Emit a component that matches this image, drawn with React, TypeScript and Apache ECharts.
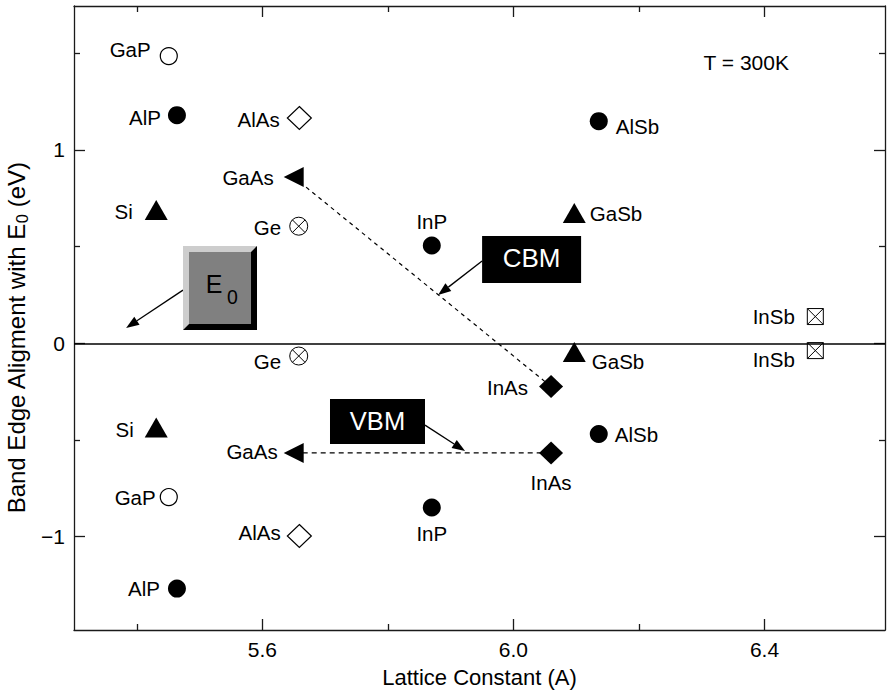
import React, { useEffect, useRef } from 'react';
import * as echarts from 'echarts';

// ---------- data ----------
const materials = ['GaP', 'AlP', 'AlAs', 'GaAs', 'Si', 'Ge', 'InP', 'AlSb', 'GaSb', 'InSb', 'InAs'];
const latticeA = [5.451, 5.464, 5.659, 5.650, 5.431, 5.658, 5.870, 6.136, 6.097, 6.481, 6.060];
const cbmEv = [1.484, 1.179, 1.164, 0.859, 0.689, 0.605, 0.505, 1.148, 0.673, 0.138, -0.224];
const vbmEv = [-0.795, -1.268, -0.996, -0.567, -0.436, -0.066, -0.849, -0.469, -0.045, -0.038, -0.567];
const markerKind = ['openCircle', 'filledCircle', 'openDiamond', 'triLeft', 'triUp', 'circleX', 'filledCircle', 'filledCircle', 'triUp', 'boxX', 'filledDiamond'];
const linkedPair = ['GaAs', 'InAs'];

const X_MIN = 5.3, X_MAX = 6.592;
const Y_MIN = -1.482, Y_MAX = 1.743;
const X_MAJOR = [5.6, 6.0, 6.4];
const X_MINOR = [5.4, 5.8, 6.2];
const Y_MAJOR = [-1, 0, 1];
const Y_MINOR = [-0.5, 0.5, 1.5];

// annotation anchors (data coordinates)
const cbmBoxAt = [6.029, 0.433];
const cbmTipAt = [5.880, 0.249];
const vbmBoxAt = [5.7835, -0.405];
const vbmTipAt = [5.923, -0.557];
const e0BoxAt = [5.5326, 0.285];
const e0TipAt = [5.383, 0.0786];
const tempAt = [6.371, 1.453];

// ---------- styles ----------
const FONT = '"Liberation Sans", Arial, Helvetica, sans-serif';
const MARKERS: Record<string, any> = {
  openCircle: { symbol: 'circle', size: 17, color: '#fff', border: '#000', bw: 1.2 },
  filledCircle: { symbol: 'circle', size: 18, color: '#000' },
  openDiamond: { symbol: 'diamond', size: [24, 23], color: '#fff', border: '#000', bw: 1.2 },
  filledDiamond: { symbol: 'diamond', size: [24, 23], color: '#000' },
  triUp: { symbol: 'triangle', size: [23, 20], color: '#000' },
  triLeft: { symbol: 'triangle', size: [20, 20], rotate: 90, color: '#000' },
  circleX: {
    symbol: 'path://M9,0A9,9,0,1,1,9,18A9,9,0,1,1,9,0ZM2.64,2.64L15.36,15.36M15.36,2.64L2.64,15.36',
    size: 18, color: 'rgba(0,0,0,0)', border: '#000', bw: 1,
  },
  boxX: {
    symbol: 'path://M0,0L16,0L16,16L0,16ZM0,0L16,16M16,0L0,16',
    size: 16, color: 'rgba(0,0,0,0)', border: '#000', bw: 1,
  },
};
// label placement: [position, distance, dy]
const LABEL_CB: Record<string, [string, number, number]> = {
  GaP: ['left', 9, -7], AlP: ['left', 7, 2], AlAs: ['left', 7, 1], GaAs: ['left', 10, 0],
  Si: ['left', 12, 2], Ge: ['left', 8, 1], InP: ['top', 5, 0], AlSb: ['right', 8, 5],
  GaSb: ['right', 4, 0], InSb: ['left', 12, 0], InAs: ['left', 11, 1],
};
const LABEL_VB: Record<string, [string, number, number]> = {
  GaP: ['left', 4, 0], AlP: ['left', 8, 0], AlAs: ['left', 6, -3], GaAs: ['left', 6, -1],
  Si: ['left', 11, 2], Ge: ['left', 8, 5], InP: ['bottom', 6, 0], AlSb: ['right', 7, 1],
  GaSb: ['right', 6, 10], InSb: ['left', 12, 9], InAs: ['bottom', 8, 0],
};

function buildSeries() {
  const kinds = Object.keys(MARKERS);
  const series: any[] = [];
  kinds.forEach((kind) => {
    const m = MARKERS[kind];
    const data: any[] = [];
    materials.forEach((name, i) => {
      if (markerKind[i] !== kind) return;
      [[cbmEv[i], LABEL_CB[name]], [vbmEv[i], LABEL_VB[name]]].forEach(([y, lp]: any) => {
        data.push({
          name,
          value: [latticeA[i], y],
          label: { position: lp[0], distance: lp[1], offset: [0, lp[2]] },
        });
      });
    });
    series.push({
      type: 'scatter',
      name: kind,
      xAxisIndex: 0,
      yAxisIndex: 0,
      symbol: m.symbol,
      symbolSize: m.size,
      symbolRotate: m.rotate || 0,
      z: 5,
      itemStyle: { color: m.color, borderColor: m.border || m.color, borderWidth: m.bw || 0, opacity: 1 },
      label: { show: true, formatter: '{b}', color: '#000', fontSize: 20.5, fontFamily: FONT },
      emphasis: { disabled: true },
      data,
    });
  });
  const ia = materials.indexOf(linkedPair[0]);
  const ib = materials.indexOf(linkedPair[1]);
  series.push({
    type: 'line', name: 'cbmLink', z: 2, symbol: 'none', silent: true,
    lineStyle: { color: '#000', width: 1.2, type: [4, 4] },
    data: [[latticeA[ia], cbmEv[ia]], [latticeA[ib], cbmEv[ib]]],
    markLine: {
      silent: true, symbol: ['none', 'none'], label: { show: false },
      lineStyle: { color: '#000', width: 1.5, type: 'solid' },
      data: [{ yAxis: 0 }],
    },
  });
  series.push({
    type: 'line', name: 'vbmLink', z: 2, symbol: 'none', silent: true,
    lineStyle: { color: '#000', width: 1.2, type: [5, 4] },
    data: [[latticeA[ia], vbmEv[ia]], [latticeA[ib], vbmEv[ib]]],
  });
  return series;
}

const AXIS_COLOR = '#1a1a1a';
function xAxisDef(position: string, values: number[], len: number, showLine: boolean, labels: boolean) {
  return {
    type: 'value', position, min: X_MIN, max: X_MAX, gridIndex: 0,
    splitLine: { show: false },
    axisLine: { show: showLine, onZero: false, lineStyle: { color: AXIS_COLOR, width: 1.3 } },
    axisTick: { show: true, inside: true, length: len, customValues: values, lineStyle: { color: AXIS_COLOR, width: 1.3 } },
    axisLabel: labels
      ? { show: true, customValues: values, formatter: (v: number) => v.toFixed(1), color: '#000', fontSize: 21, fontFamily: FONT, margin: 9 }
      : { show: false },
  };
}
function yAxisDef(position: string, values: number[], len: number, showLine: boolean, labels: boolean) {
  return {
    type: 'value', position, min: Y_MIN, max: Y_MAX, gridIndex: 0,
    splitLine: { show: false },
    axisLine: { show: showLine, onZero: false, lineStyle: { color: AXIS_COLOR, width: 1.3 } },
    axisTick: { show: true, inside: true, length: len, customValues: values, lineStyle: { color: AXIS_COLOR, width: 1.3 } },
    axisLabel: labels
      ? { show: true, customValues: values, formatter: (v: number) => (v < 0 ? '\u2212' + Math.abs(v) : String(v)), color: '#000', fontSize: 21, fontFamily: FONT, margin: 9 }
      : { show: false },
  };
}

function arrow(from: number[], tip: number[]) {
  const dx = tip[0] - from[0], dy = tip[1] - from[1];
  const d = Math.hypot(dx, dy);
  const ux = dx / d, uy = dy / d;
  const L = 13, W = 4.8;
  const bx = tip[0] - ux * L, by = tip[1] - uy * L;
  return [
    { type: 'line', z: 20, shape: { x1: from[0], y1: from[1], x2: bx, y2: by }, style: { stroke: '#000', lineWidth: 1.3 } },
    { type: 'polygon', z: 20, shape: { points: [[tip[0], tip[1]], [bx - uy * W, by + ux * W], [bx + uy * W, by - ux * W]] }, style: { fill: '#000' } },
  ];
}

export default function App() {
  const ref = useRef<HTMLDivElement>(null);
  useEffect(() => {
    document.body.style.margin = '0';
    const chart = echarts.init(ref.current!, null, { renderer: 'svg' });
    chart.setOption({
      animation: false,
      backgroundColor: '#fff',
      grid: { left: 74, right: 3, top: 6, bottom: 61, containLabel: false, outerBoundsMode: 'none' },
      xAxis: [
        {
          ...xAxisDef('bottom', X_MAJOR, 11, true, true),
          name: 'Lattice Constant (A)', nameLocation: 'middle', nameGap: 36,
          nameTextStyle: { color: '#000', fontSize: 22, fontFamily: FONT },
        },
        xAxisDef('bottom', X_MINOR, 6, false, false),
        xAxisDef('top', X_MAJOR, 11, true, false),
        xAxisDef('top', X_MINOR, 6, false, false),
      ],
      yAxis: [
        {
          ...yAxisDef('left', Y_MAJOR, 11, true, true),
          name: 'Band Edge Aligment with E{s|0} (eV)', nameLocation: 'middle', nameGap: 42,
          nameTextStyle: {
            color: '#000', fontSize: 24, fontFamily: FONT, padding: [0, 40, 0, 0],
            rich: { s: { fontSize: 16.5, fontFamily: FONT, color: '#000', padding: [11, 0, 0, 0] } },
          },
        },
        yAxisDef('left', Y_MINOR, 6, false, false),
        yAxisDef('right', Y_MAJOR, 11, true, false),
        yAxisDef('right', Y_MINOR, 6, false, false),
      ],
      series: buildSeries(),
    });

    const P = (p: number[]) => chart.convertToPixel({ seriesIndex: 0 }, p) as number[];
    const cbm = P(cbmBoxAt), cbmTip = P(cbmTipAt);
    const vbm = P(vbmBoxAt), vbmTip = P(vbmTipAt);
    const e0 = P(e0BoxAt), e0Tip = P(e0TipAt);
    const tp = P(tempAt);

    const g: any[] = [];
    // CBM
    g.push({ type: 'rect', z: 21, shape: { x: cbm[0] - 49.5, y: cbm[1] - 23.5, width: 99, height: 47 }, style: { fill: '#000' } });
    g.push({ type: 'text', z: 22, style: { text: 'CBM', x: cbm[0], y: cbm[1] - 1, fill: '#fff', fontSize: 26, fontFamily: FONT, textAlign: 'center', textVerticalAlign: 'middle' } });
    g.push(...arrow([cbm[0] - 49.5, cbm[1] + 1.5], cbmTip));
    // VBM
    g.push({ type: 'rect', z: 21, shape: { x: vbm[0] - 47.5, y: vbm[1] - 22.5, width: 95, height: 45 }, style: { fill: '#000' } });
    g.push({ type: 'text', z: 22, style: { text: 'VBM', x: vbm[0], y: vbm[1] - 0.5, fill: '#fff', fontSize: 25.5, fontFamily: FONT, textAlign: 'center', textVerticalAlign: 'middle' } });
    g.push(...arrow([vbm[0] + 47.5, vbm[1] + 3.5], vbmTip));
    // E0 bevel box
    const x0 = e0[0] - 37, y0 = e0[1] - 42, w = 74, h = 84, b = 6;
    const x1 = x0 + w, y1 = y0 + h;
    g.push({ type: 'rect', z: 21, shape: { x: x0, y: y0, width: w, height: h }, style: { fill: '#cdcdcd' } });
    g.push({ type: 'polygon', z: 21, shape: { points: [[x1, y0], [x1, y1], [x0, y1], [x0 + b, y1 - b], [x1 - b, y1 - b], [x1 - b, y0 + b]] }, style: { fill: '#000' } });
    g.push({ type: 'rect', z: 22, shape: { x: x0 + b, y: y0 + b, width: w - 2 * b, height: h - 2 * b }, style: { fill: '#808080' } });
    g.push({ type: 'text', z: 23, style: { text: 'E', x: e0[0] - 6, y: e0[1] - 4, fill: '#000', fontSize: 25, fontFamily: FONT, textAlign: 'center', textVerticalAlign: 'middle' } });
    g.push({ type: 'text', z: 23, style: { text: '0', x: e0[0] + 12.5, y: e0[1] + 9, fill: '#000', fontSize: 19.5, fontFamily: FONT, textAlign: 'center', textVerticalAlign: 'middle' } });
    g.push(...arrow([x0, e0[1] + 2], e0Tip));
    // temperature
    g.push({ type: 'text', z: 23, style: { text: 'T = 300K', x: tp[0], y: tp[1], fill: '#000', fontSize: 21, fontFamily: FONT, textAlign: 'center', textVerticalAlign: 'middle' } });

    chart.setOption({ graphic: g });
    return () => chart.dispose();
  }, []);
  return <div ref={ref} style={{ width: 888, height: 691 }} />;
}
